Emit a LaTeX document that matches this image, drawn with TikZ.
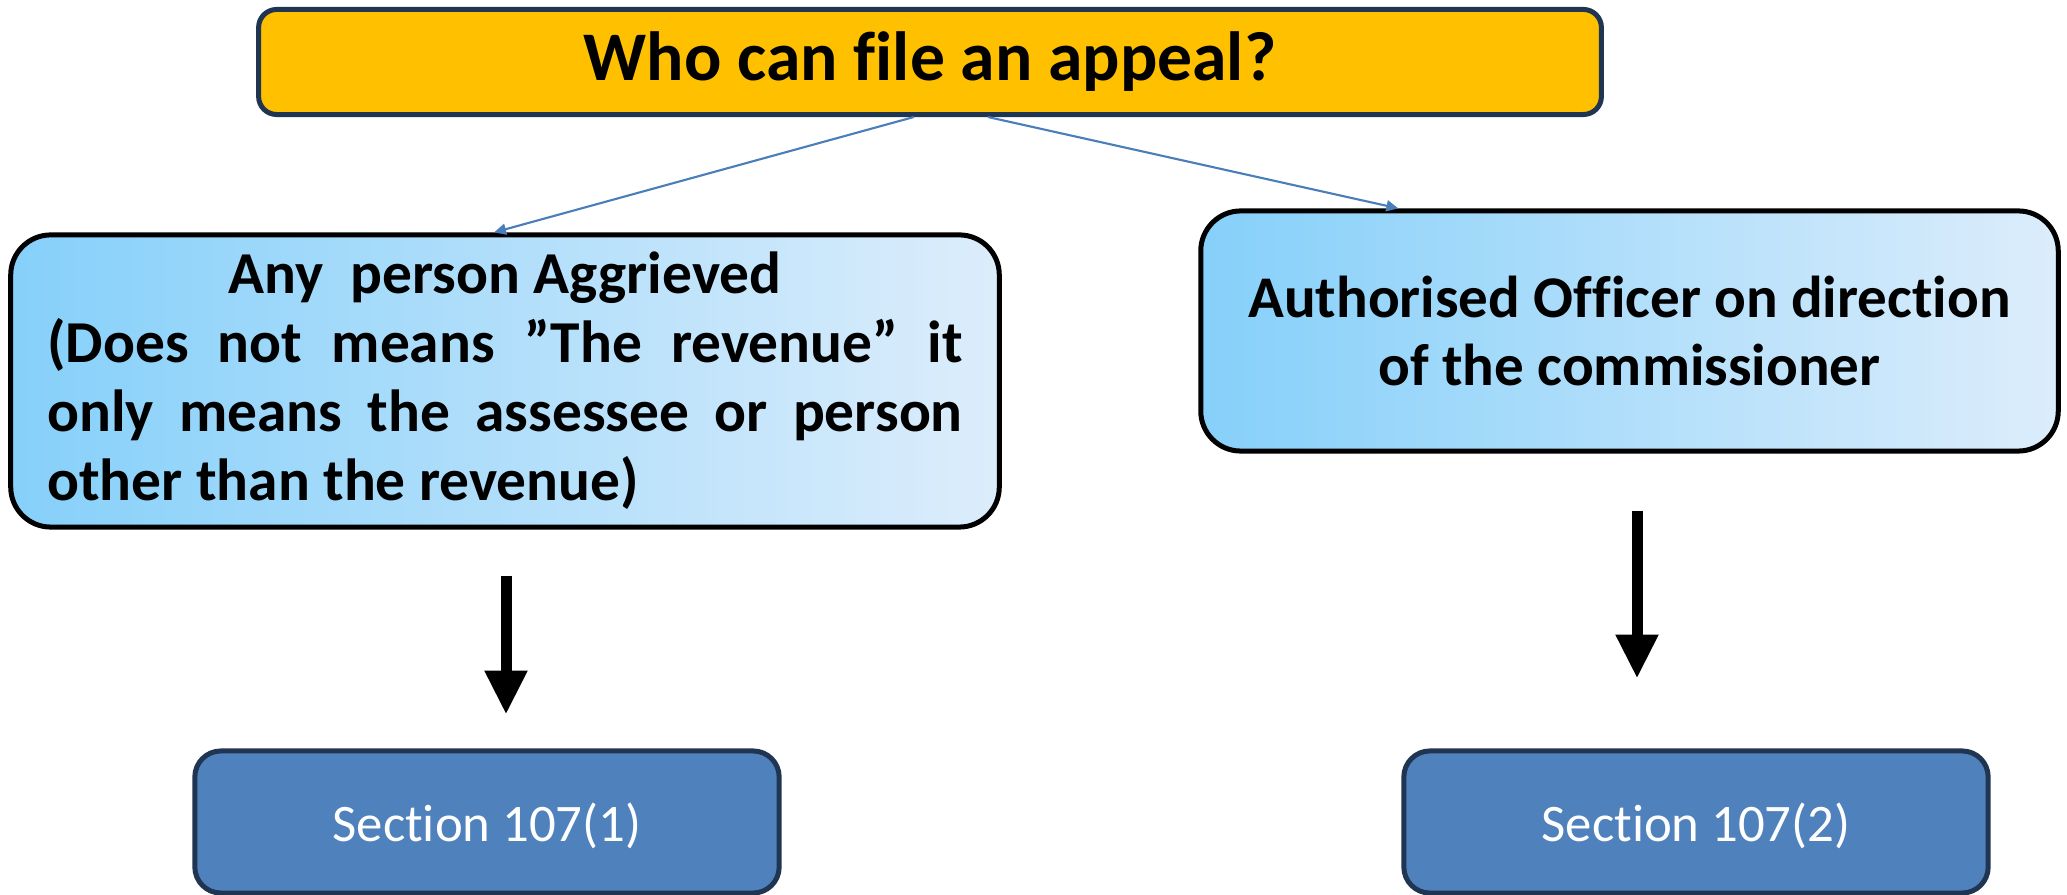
\documentclass[tikz,border=0pt]{standalone}
\usepackage{fontspec}
\setmainfont{Carlito}[Ligatures=NoCommon]
\usetikzlibrary{arrows.meta,calc}

\definecolor{amber}{HTML}{FFC000}
\definecolor{navy}{HTML}{1F3552}
\definecolor{secblue}{HTML}{4F81BD}
\definecolor{skyA}{HTML}{86D0FA}
\definecolor{skyB}{HTML}{DCEDFB}
\definecolor{linkblue}{HTML}{4A7EBB}

\tikzset{
  titlebox/.style={draw=navy, line width=0.05cm, fill=amber, rounded corners=0.18cm,
    minimum width=13.42cm, minimum height=1.05cm, inner sep=0pt,
    font=\fontsize{19.8}{24}\selectfont\bfseries},
  whobox/.style={draw=black, line width=0.05cm, left color=skyA, right color=skyB,
    rounded corners=0.4cm, inner sep=0pt, font=\bfseries},
  secbox/.style={draw=navy, line width=0.05cm, fill=secblue, rounded corners=0.26cm,
    minimum width=5.84cm, minimum height=1.42cm, inner sep=0pt, text=white,
    font=\fontsize{15}{18}\selectfont},
  seclabel/.style={text=white, font=\fontsize{15}{18}\selectfont, inner sep=0pt},
  link/.style={draw=linkblue, line width=0.6pt, -{Triangle[width=0.11cm,length=0.12cm]}},
  bigarrow/.style={draw=black, line width=0.11cm, -{Triangle[width=0.40cm,length=0.44cm]}}
}

\begin{document}
\begin{tikzpicture}[x=0.01cm, y=-0.01cm]
  \useasboundingbox (0,0) rectangle (2067,895);

  % question
  \node[titlebox] (q) at (930,62) {Who can file an appeal?};

  % the two kinds of appellant
  \node[whobox, minimum width=9.88cm, minimum height=2.92cm,
        font=\fontsize{16.9}{19.6}\selectfont\bfseries] (any) at (505,381)
    {\parbox{9.15cm}{%
      \makebox[\linewidth][c]{Any\ \ person Aggrieved}\\
      \makebox[\linewidth][s]{(Does not means ”The revenue” it}\\
      \makebox[\linewidth][s]{only means the assessee or person}\\
      \makebox[\linewidth][l]{other than the revenue)}}};

  \node[whobox, minimum width=8.57cm, minimum height=2.40cm, align=center,
        font=\fontsize{16.8}{19.6}\selectfont\bfseries] (officer) at (1629.5,331)
    {Authorised Officer on direction\\of the commissioner};

  % sections
  \node[secbox] (s1) at (487,822) {};
  \node[secbox] (s2) at (1696,822) {};
  \node[seclabel] (t1) at ($(s1.center)+(0,4)$) {Section 107(1)};
  \node[seclabel] (t2) at ($(s2.center)+(0,4)$) {Section 107(2)};

  % connectors from the question
  \draw[link] ($(q.south west)!0.488!(q.south east)$) -- ($(any.north west)!0.489!(any.north east)$);
  \draw[link] ($(q.south west)!0.543!(q.south east)$) -- ($(officer.north west)!0.232!(officer.north east)$);

  % arrows down to the sections
  \coordinate (a1) at ($(any.south)+(1,46)$);
  \coordinate (b1) at ($(any.south)+(1,185)$);
  \coordinate (a2) at ($(officer.south)+(7.5,57)$);
  \coordinate (b2) at ($(officer.south)+(7.5,225)$);
  \draw[bigarrow] (a1) -- (b1);
  \draw[bigarrow] (a2) -- (b2);
\end{tikzpicture}
\end{document}
